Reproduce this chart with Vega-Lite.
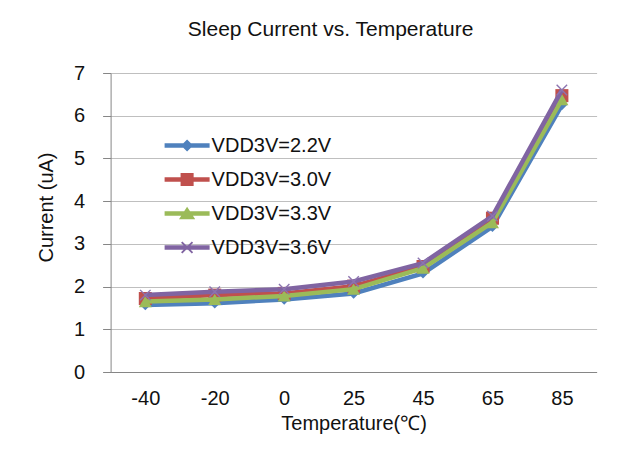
{
  "$schema": "https://vega.github.io/schema/vega-lite/v6.json",
  "width": 486,
  "height": 299,
  "autosize": "none",
  "padding": {"left": 110.6, "top": 73, "right": 33.4, "bottom": 88},
  "background": "white",
  "title": {"text": "Sleep Current vs. Temperature", "font": "Liberation Sans", "fontSize": 21, "fontWeight": "normal", "color": "#111111", "anchor": "middle", "dx": -23, "offset": 23},
  "data": {"values": [
    {"t": -40, "v": 1.57, "s": "VDD3V=2.2V"},
    {"t": -20, "v": 1.61, "s": "VDD3V=2.2V"},
    {"t": 0, "v": 1.70, "s": "VDD3V=2.2V"},
    {"t": 25, "v": 1.84, "s": "VDD3V=2.2V"},
    {"t": 45, "v": 2.31, "s": "VDD3V=2.2V"},
    {"t": 65, "v": 3.40, "s": "VDD3V=2.2V"},
    {"t": 85, "v": 6.25, "s": "VDD3V=2.2V"},
    {"t": -40, "v": 1.72, "s": "VDD3V=3.0V"},
    {"t": -20, "v": 1.80, "s": "VDD3V=3.0V"},
    {"t": 0, "v": 1.84, "s": "VDD3V=3.0V"},
    {"t": 25, "v": 2.01, "s": "VDD3V=3.0V"},
    {"t": 45, "v": 2.47, "s": "VDD3V=3.0V"},
    {"t": 65, "v": 3.60, "s": "VDD3V=3.0V"},
    {"t": 85, "v": 6.47, "s": "VDD3V=3.0V"},
    {"t": -40, "v": 1.65, "s": "VDD3V=3.3V"},
    {"t": -20, "v": 1.70, "s": "VDD3V=3.3V"},
    {"t": 0, "v": 1.78, "s": "VDD3V=3.3V"},
    {"t": 25, "v": 1.94, "s": "VDD3V=3.3V"},
    {"t": 45, "v": 2.43, "s": "VDD3V=3.3V"},
    {"t": 65, "v": 3.50, "s": "VDD3V=3.3V"},
    {"t": 85, "v": 6.38, "s": "VDD3V=3.3V"},
    {"t": -40, "v": 1.80, "s": "VDD3V=3.6V"},
    {"t": -20, "v": 1.88, "s": "VDD3V=3.6V"},
    {"t": 0, "v": 1.94, "s": "VDD3V=3.6V"},
    {"t": 25, "v": 2.12, "s": "VDD3V=3.6V"},
    {"t": 45, "v": 2.55, "s": "VDD3V=3.6V"},
    {"t": 65, "v": 3.65, "s": "VDD3V=3.6V"},
    {"t": 85, "v": 6.60, "s": "VDD3V=3.6V"}
  ]},
  "encoding": {
    "x": {
      "field": "t", "type": "ordinal",
      "scale": {"type": "point", "padding": 0.5},
      "axis": {"title": "Temperature(℃)", "labelAngle": 0, "ticks": false, "grid": false, "domainColor": "#868686", "labelPadding": 16, "titlePadding": 5}
    },
    "y": {
      "field": "v", "type": "quantitative",
      "scale": {"domain": [0, 7], "nice": false},
      "axis": {"title": "Current (uA)", "titleY": 134, "values": [0, 1, 2, 3, 4, 5, 6, 7], "tickSize": 8, "tickColor": "#868686", "domainColor": "#868686", "gridColor": "#BFBFBF", "labelPadding": 18, "titlePadding": 17}
    }
  },
  "layer": [
    {
      "transform": [{"filter": {"field": "s", "equal": "VDD3V=2.2V"}}],
      "mark": {"type": "line", "color": "#4F81BD", "strokeWidth": 4.5, "point": {"shape": "diamond", "filled": true, "size": 110, "color": "#4F81BD"}}
    },
    {
      "transform": [{"filter": {"field": "s", "equal": "VDD3V=3.0V"}}],
      "mark": {"type": "line", "color": "#C0504D", "strokeWidth": 4.5, "point": {"shape": "square", "filled": true, "size": 170, "color": "#C0504D"}}
    },
    {
      "transform": [{"filter": {"field": "s", "equal": "VDD3V=3.3V"}}],
      "mark": {"type": "line", "color": "#9BBB59", "strokeWidth": 4.5, "point": {"shape": "triangle-up", "filled": true, "size": 170, "color": "#9BBB59"}}
    },
    {
      "transform": [{"filter": {"field": "s", "equal": "VDD3V=3.6V"}}],
      "mark": {"type": "line", "color": "#8064A2", "strokeWidth": 4.5, "point": {"shape": "M-1,-1L1,1M-1,1L1,-1", "filled": false, "size": 110, "strokeWidth": 1.4, "color": "#8C74B0"}}
    },
    {
      "mark": {"type": "point", "filled": true, "opacity": 0},
      "encoding": {
        "color": {
          "field": "s", "type": "nominal",
          "scale": {"domain": ["VDD3V=2.2V", "VDD3V=3.0V", "VDD3V=3.3V", "VDD3V=3.6V"], "range": ["#4F81BD", "#C0504D", "#9BBB59", "#8064A2"]},
          "legend": {"orient": "none", "legendX": 54, "legendY": 50, "title": null}
        },
        "shape": {
          "field": "s", "type": "nominal",
          "scale": {"domain": ["VDD3V=2.2V", "VDD3V=3.0V", "VDD3V=3.3V", "VDD3V=3.6V"], "range": [
            "M-1,-0.1H1V0.1H-1ZM0,-0.27L0.27,0L0,0.27L-0.27,0Z",
            "M-1,-0.1H1V0.1H-1ZM-0.29,-0.29H0.29V0.29H-0.29Z",
            "M-1,-0.1H1V0.1H-1ZM0,-0.3L0.36,0.25L-0.36,0.25Z",
            "M-1,-0.1H1V0.1H-1ZM-0.21,-0.27L0.27,0.21L0.21,0.27L-0.27,-0.21ZM0.21,-0.27L0.27,-0.21L-0.21,0.27L-0.27,0.21Z"
          ]},
          "legend": {"orient": "none", "legendX": 54, "legendY": 50, "title": null}
        }
      }
    }
  ],
  "config": {
    "font": "Liberation Sans",
    "view": {"stroke": null},
    "axis": {"labelFont": "Liberation Sans", "labelFontSize": 20, "labelColor": "#111111", "titleFont": "Liberation Sans", "titleFontSize": 20, "titleFontWeight": "normal", "titleColor": "#111111"},
    "legend": {"labelFont": "Liberation Sans", "labelFontSize": 20, "labelColor": "#111111", "symbolSize": 2025, "symbolOpacity": 1, "symbolStrokeWidth": 0, "rowPadding": 1, "labelOffset": 2, "padding": 0}
  }
}
